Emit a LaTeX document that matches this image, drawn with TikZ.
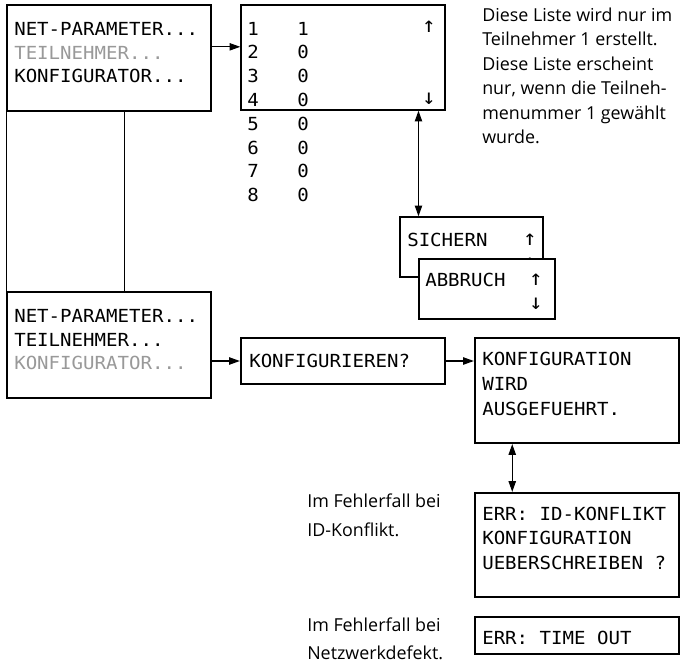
\documentclass[tikz,border=0pt]{standalone}
\usepackage{fontspec}
\usetikzlibrary{arrows.meta,calc}
\newfontfamily\lcdfont{DejaVu Sans Mono}[FakeStretch=1.06]
\newfontfamily\capfont{Open Sans}
\definecolor{lcdgray}{gray}{0.6}
\tikzset{
  lcdbox/.style={draw, line width=1.1pt, inner sep=0pt, fill=white},
  thickbox/.style={lcdbox, line width=1.7pt},
  lcd/.style={font=\lcdfont\fontsize{13.5pt}{16pt}\selectfont, inner sep=0pt, anchor=base west},
  lcdsym/.style={font=\lcdfont\fontsize{16pt}{18pt}\selectfont, inner sep=0pt, anchor=center},
  captxt/.style={font=\capfont\fontsize{13.4pt}{16pt}\selectfont, inner sep=0pt, anchor=base west, text=black},
  conn/.style={line width=0.8pt},
  frameline/.style={line width=1.1pt},
  arr/.style={conn, -{Triangle[length=8pt,width=5.5pt]}},
  darr/.style={conn, {Triangle[length=8pt,width=5.5pt]}-{Triangle[length=8pt,width=5.5pt]}},
}
\begin{document}
\begin{tikzpicture}[x=0.75pt,y=-0.75pt]
\useasboundingbox (0,0) rectangle (684,664);
\fill[white] (0,0) rectangle (684,664);

% --- boxes
\node[lcdbox, minimum width=153pt, minimum height=79.5pt] (box1) at (109,58) {};
\node[lcdbox, minimum width=153pt, minimum height=78.75pt] (box2) at (343,57.5) {};
\node[lcdbox, minimum width=153pt, minimum height=79.5pt] (box3) at (109,345) {};
\node[lcdbox, minimum width=107.25pt, minimum height=45pt] (sichern) at (471.5,247) {};
\node[lcd] (tsich) at (407,246.5) {SICHERN};
\node[lcdsym] (sichup) at (530,240) {↑};
\node[lcdsym] (sichdn) at (530,264) {↓};
\node[lcdbox, minimum width=102pt, minimum height=45pt] (abbruch) at (487,289) {};
\node[thickbox, minimum width=153pt, minimum height=34.5pt] (konf) at (343,361) {};
\node[thickbox, minimum width=153pt, minimum height=78.75pt] (kfg) at (577,390.5) {};
\node[thickbox, minimum width=153pt, minimum height=78pt] (err) at (577,545) {};
\node[thickbox, minimum width=153pt, minimum height=27.75pt] (tout) at (577,635.5) {};

% --- box 1 text
\node[lcd] (b1a) at (14,35.5) {NET-PARAMETER...};
\node[lcd, text=lcdgray] (b1b) at (14,59) {TEILNEHMER...};
\node[lcd] (b1c) at (14,82.5) {KONFIGURATOR...};
% --- box 3 text
\node[lcd] (b3a) at (14,322.5) {NET-PARAMETER...};
\node[lcd] (b3b) at (14,346) {TEILNEHMER...};
\node[lcd, text=lcdgray] (b3c) at (14,369.5) {KONFIGURATOR...};

% --- list
\foreach \i/\v in {1/1,2/0,3/0,4/0,5/0,6/0,7/0,8/0}{
  \node[lcd] (la\i) at (247,{35+23.8*(\i-1)}) {\i};
  \node[lcd] (lb\i) at (297,{35+23.8*(\i-1)}) {\v};
}
\node[lcdsym] (lup) at (429,27) {↑};
\node[lcdsym] (ldn) at (429,99) {↓};

% --- abbruch text
\node[lcd] (tabb) at (425,286.5) {ABBRUCH};
\node[lcdsym] (abbup) at (536,280) {↑};
\node[lcdsym] (abbdn) at (536,304) {↓};

% --- konfigurieren
\node[lcd] (tkonf) at (249,367.5) {KONFIGURIEREN?};
% --- konfiguration
\node[lcd] (k1) at (482,365.5) {KONFIGURATION};
\node[lcd] (k2) at (482,390.5) {WIRD};
\node[lcd] (k3) at (482,415.5) {AUSGEFUEHRT.};
% --- err
\node[lcd] (e1) at (482,520.5) {ERR: ID-KONFLIKT};
\node[lcd] (e2) at (482,544.5) {KONFIGURATION};
\node[lcd] (e3) at (482,569.5) {UEBERSCHREIBEN ?};
\node[lcd] (t1) at (482,644.5) {ERR: TIME OUT};

% --- captions
\node[captxt] (c1) at (482,21) {Diese Liste wird nur im};
\node[captxt] (c2) at (482,45.5) {Teilnehmer 1 erstellt.};
\node[captxt] (c3) at (482,70) {Diese Liste erscheint};
\node[captxt] (c4) at (482,94.5) {nur, wenn die Teilneh-};
\node[captxt] (c5) at (482,119) {menummer 1 gewählt};
\node[captxt] (c6) at (482,143.5) {wurde.};
\node[captxt] (f1) at (307,507.5) {Im Fehlerfall bei};
\node[captxt] (f2) at (307,536) {ID-Konflikt.};
\node[captxt] (f3) at (307,631) {Im Fehlerfall bei};
\node[captxt] (f4) at (307,659.5) {Netzwerkdefekt.};

% --- connectors
\coordinate (b1r) at ($(box1.north east)!0.396!(box1.south east)$);
\draw[arr] (b1r) -- (b1r -| box2.west);
\coordinate (b1s) at ($(box1.south west)!0.574!(box1.south east)$);
\draw[conn] (b1s) -- (b1s |- box3.north);
\draw[frameline] (box1.south west) -- (box3.north west);
\coordinate (sn) at ($(sichern.north west)!0.133!(sichern.north east)$);
\draw[darr] (sn |- box2.south) -- (sn);
\draw[arr] (box3.east |- konf.west) -- (konf.west);
\draw[arr] (konf.east) -- (konf.east -| kfg.west);
\coordinate (ks) at ($(kfg.south west)!0.186!(kfg.south east)$);
\draw[darr] (ks) -- (ks |- err.north);
\end{tikzpicture}
\end{document}
